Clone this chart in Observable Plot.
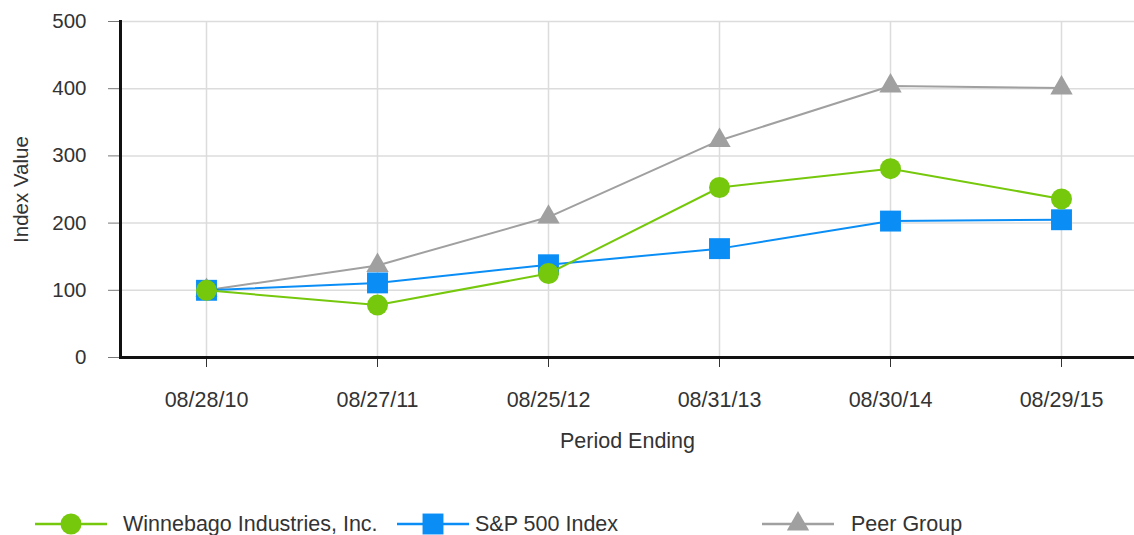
<!DOCTYPE html>
<html>
<head>
<meta charset="utf-8">
<script src="https://cdn.jsdelivr.net/npm/d3@7"></script>
<script src="https://cdn.jsdelivr.net/npm/@observablehq/plot@0.6"></script>
<style>
  html, body { margin: 0; padding: 0; background: #fff; }
  #chart { width: 1134px; }
  #legend { position: relative; width: 1134px; height: 65px; font-family: "Liberation Sans", Arial, sans-serif; font-size: 21.5px; color: #333; }
  .item { position: absolute; top: 30px; height: 48px; display: flex; align-items: center; white-space: nowrap; }
  .item svg { display: block; }
</style>
</head>
<body>
<div id="chart"></div>
<div id="legend"></div>
<script>
// ---- data ----
const periods = ["08/28/10", "08/27/11", "08/25/12", "08/31/13", "08/30/14", "08/29/15"];
const winnebago = [100, 78, 125, 253, 281, 236];
const sp500 = [100, 111, 138, 162, 203, 205];
const peerGroup = [100, 137, 209, 323, 404, 401];
const yTicks = [0, 100, 200, 300, 400, 500];
const seriesNames = ["Winnebago Industries, Inc.", "S&P 500 Index", "Peer Group"];
const seriesColors = ["#76c80c", "#0a8ef6", "#a0a0a0"];
const seriesSymbols = ["circle", "square", "triangle"];
const seriesValues = [winnebago, sp500, peerGroup];

// build long table
const rows = [];
seriesNames.forEach((name, i) => {
  periods.forEach((p, j) => rows.push({series: name, period: p, value: seriesValues[i][j]}));
});

const font = "'Liberation Sans', Arial, sans-serif";
const markSize = {circle: 10.5, square: 11.8, triangle: 8.3};

// draw order: peer, S&P, Winnebago (on top)
const order = [2, 1, 0];
const seriesMarks = order.flatMap(i => {
  const data = rows.filter(d => d.series === seriesNames[i]);
  return [
    Plot.line(data, {x: "period", y: "value", stroke: seriesColors[i], strokeWidth: 2}),
    Plot.dot(data, {x: "period", y: "value", symbol: () => seriesSymbols[i], r: markSize[seriesSymbols[i]], fill: seriesColors[i], stroke: "none"})
  ];
});

const chart = Plot.plot({
  width: 1134,
  height: 470,
  marginTop: 21,
  marginLeft: 120,
  marginRight: 0,
  marginBottom: 113,
  style: {fontFamily: font, fontSize: "21px", color: "#333", background: "#fff"},
  x: {type: "point", domain: periods, range: [206, 1061], padding: 0},
  y: {domain: [0, 500]},
  marks: [
    Plot.gridY(yTicks, {stroke: "#dcdcdc", strokeOpacity: 1, strokeWidth: 1.5}),
    Plot.gridX(periods, {stroke: "#dcdcdc", strokeOpacity: 1, strokeWidth: 1.5}),
    Plot.axisY(yTicks, {tickSize: 12, tickPadding: 22, stroke: "#777", fill: "#333", fontSize: 20.5,
      label: "Index Value", labelAnchor: "center", labelArrow: "none", labelOffset: 107}),
    Plot.axisX(periods, {tickSize: 10, tickPadding: 24, stroke: "#333", fill: "#333", fontSize: 21.5,
      label: "Period Ending", labelAnchor: "center", labelArrow: "none", labelOffset: 90}),
    Plot.frame({anchor: "left", stroke: "#111", strokeWidth: 3}),
    Plot.frame({anchor: "bottom", stroke: "#111", strokeWidth: 3}),
    ...seriesMarks
  ]
});
document.getElementById("chart").appendChild(chart);

// ---- legend ----
const legendLeft = [35, 397, 762];
const legendGap = [16, 6, 17];
const legend = d3.select("#legend");
seriesNames.forEach((name, i) => {
  const item = legend.append("div").attr("class", "item").style("left", legendLeft[i] + "px");
  const svg = item.append("svg").attr("width", 72).attr("height", 26);
  svg.append("line").attr("x1", 0).attr("x2", 72).attr("y1", 13).attr("y2", 13)
    .attr("stroke", seriesColors[i]).attr("stroke-width", 2.5);
  const sym = {circle: d3.symbolCircle, square: d3.symbolSquare, triangle: d3.symbolTriangle}[seriesSymbols[i]];
  const r = markSize[seriesSymbols[i]];
  svg.append("path").attr("transform", "translate(36,13)")
    .attr("d", d3.symbol(sym, Math.PI * r * r)()).attr("fill", seriesColors[i]);
  item.append("span").style("margin-left", legendGap[i] + "px").text(name);
});
</script>
</body>
</html>
